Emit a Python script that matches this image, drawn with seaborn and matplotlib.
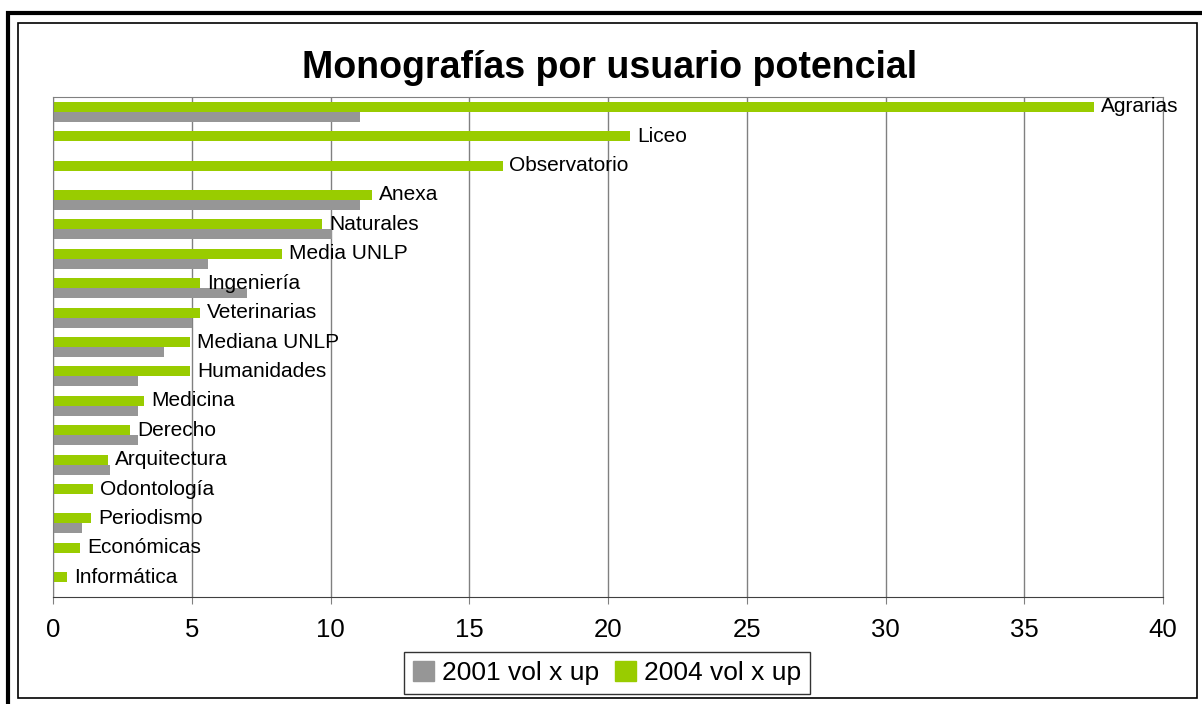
# Monografias por usuario potencial - barras horizontales 2001 vs 2004
import pandas as pd
import matplotlib
matplotlib.use("Agg")
import matplotlib.pyplot as plt
import matplotlib.patches as mpatches
import seaborn as sns

# datos
facultades = ["Agrarias", "Liceo", "Observatorio", "Anexa", "Naturales", "Media UNLP",
              "Ingeniería", "Veterinarias", "Mediana UNLP", "Humanidades", "Medicina",
              "Derecho", "Arquitectura", "Odontología", "Periodismo", "Económicas", "Informática"]
vol_2004 = [37.5, 20.8, 16.2, 11.5, 9.7, 8.25, 5.3, 5.3, 4.95, 4.95, 3.28,
            2.77, 1.98, 1.44, 1.37, 0.97, 0.5]
vol_2001 = [11.05, 0, 0, 11.05, 10.05, 5.6, 7.0, 5.0, 4.0, 3.05, 3.05,
            3.05, 2.05, 0, 1.05, 0, 0]
series = ["2001 vol x up", "2004 vol x up"]
colores = {"2001 vol x up": "#969696", "2004 vol x up": "#99CC00"}

plt.rcParams["font.family"] = ["Liberation Sans", "DejaVu Sans"]

df = pd.concat([
    pd.DataFrame({"Facultad": facultades, "Serie": series[1], "Valor": vol_2004}),
    pd.DataFrame({"Facultad": facultades, "Serie": series[0], "Valor": vol_2001}),
])

fig = plt.figure(figsize=(12.02, 7.04), dpi=100)
ax = fig.add_axes([53 / 1202, 1 - 597 / 704, 1110 / 1202, 500 / 704])

sns.barplot(data=df, x="Valor", y="Facultad", hue="Serie", order=facultades,
            hue_order=[series[1], series[0]], palette=colores, width=0.68,
            saturation=1, errorbar=None, linewidth=0, legend=False, ax=ax)

# etiquetas con el nombre al final de la barra verde
for i, (nombre, v) in enumerate(zip(facultades, vol_2004)):
    ax.annotate(nombre, xy=(v, i - 0.17), xytext=(5, 0), textcoords="offset points",
                ha="left", va="center", fontsize=15)

ax.set_xlim(0, 40)
ax.set_xticks(range(0, 41, 5))
ax.set_ylim(len(facultades) - 0.5, -0.5)
ax.set_yticks([])
ax.set_xlabel("")
ax.set_ylabel("")
ax.grid(axis="x", color="#808080", linewidth=1)
ax.set_axisbelow(True)
ax.tick_params(axis="x", labelsize=18.5, length=5, color="#808080", pad=10)
for lado in ["left", "top", "right"]:
    ax.spines[lado].set_color("#808080")
ax.spines["bottom"].set_color("#404040")

fig.text(610 / 1202, 1 - 68 / 704, "Monografías por usuario potencial",
         ha="center", va="center", fontsize=27, fontweight="bold")

handles = [mpatches.Patch(color=colores[s], label=s) for s in series]
leg = fig.legend(handles=handles, loc="center", bbox_to_anchor=(607 / 1202, 1 - 673 / 704),
                 ncol=2, fontsize=19, frameon=True, fancybox=False, edgecolor="black",
                 handlelength=0.8, handleheight=0.8, handletextpad=0.3, columnspacing=0.6,
                 borderpad=0.35)
leg.get_frame().set_linewidth(1)

# marcos del grafico
fig.patches.append(mpatches.Rectangle((8 / 1202, -0.2), 1.2, 1.2 - 13 / 704, transform=fig.transFigure,
                                      fill=False, edgecolor="black", linewidth=3))
fig.patches.append(mpatches.Rectangle((18 / 1202, 1 - 698 / 704), (1197 - 18) / 1202, (698 - 23) / 704,
                                      transform=fig.transFigure, fill=False,
                                      edgecolor="black", linewidth=1.2))

fig.savefig("out.png", dpi=100)
